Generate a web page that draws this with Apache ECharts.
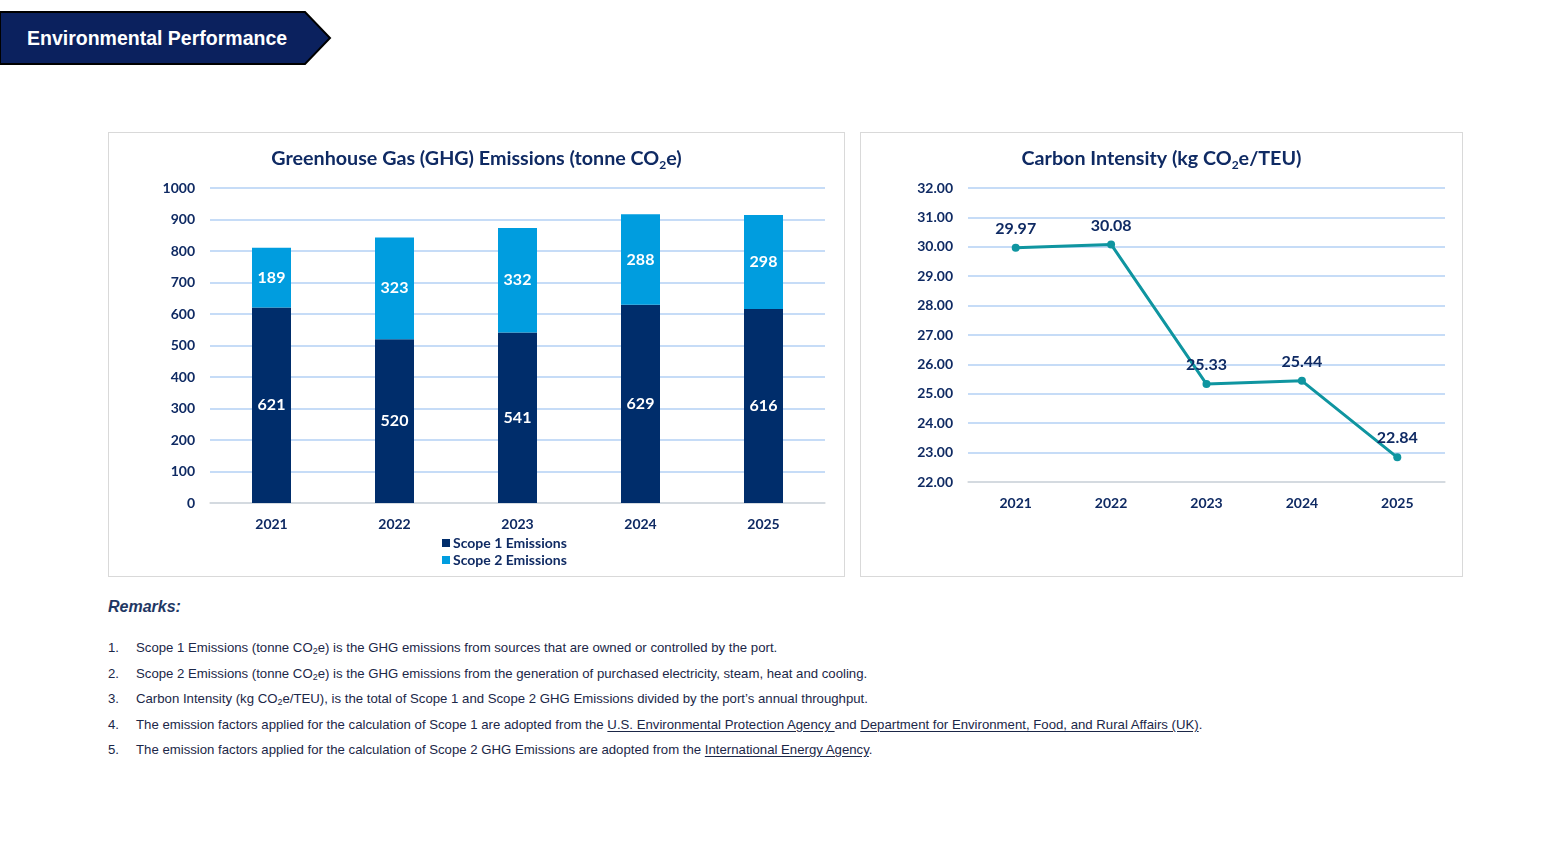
<!DOCTYPE html>
<html>
<head>
<meta charset="utf-8">
<script src="https://cdn.jsdelivr.net/npm/echarts@6/dist/echarts.min.js"></script>
<style>
    html, body { margin: 0; padding: 0; background: #fff; }
    body { width: 1566px; height: 848px; position: relative; overflow: hidden; font-family: "Liberation Sans", Arial, sans-serif; }
    #banner { position: absolute; left: 0; top: 0; }
    .box { position: absolute; box-sizing: border-box; border: 1px solid #d9d9d9; background: #fff; }
    #ghgChart { left: 108px; top: 132px; width: 737px; height: 445px; }
    #ciChart { left: 860px; top: 132px; width: 603px; height: 445px; }
    #remarks { position: absolute; left: 108px; top: 598px; width: 1400px; color: #1b2748; }
    #remarks h3 { margin: 0; font-size: 16px; font-weight: bold; font-style: italic; color: #1f3864; }
    #remarks ol { list-style: none; margin: 24px 0 0 0; padding: 0; font-size: 13.2px; }
    #remarks li { position: relative; padding-left: 28px; height: 25.5px; line-height: 16px; }
    #remarks li span.n { position: absolute; left: 0; }
    #remarks u { text-underline-offset: 2px; }
    #remarks sub { font-size: 9px; vertical-align: -2px; }
</style>
</head>
<body>
<svg id="banner" width="340" height="70">
    <polygon points="0,12 305,12 330,38 305,64 0,64" fill="#0b215e" stroke="#000" stroke-width="2"/>
    <text x="27" y="45" fill="#fff" font-family="Liberation Sans, Arial, sans-serif" font-weight="bold" font-size="19.5">Environmental Performance</text>
</svg>
<div id="ghgChart" class="box"></div>
<div id="ciChart" class="box"></div>
<div id="remarks">
    <h3>Remarks:</h3>
    <ol>
        <li><span class="n">1.</span>Scope 1 Emissions (tonne CO<sub>2</sub>e) is the GHG emissions from sources that are owned or controlled by the port.</li>
        <li><span class="n">2.</span>Scope 2 Emissions (tonne CO<sub>2</sub>e) is the GHG emissions from the generation of purchased electricity, steam, heat and cooling.</li>
        <li><span class="n">3.</span>Carbon Intensity (kg CO<sub>2</sub>e/TEU), is the total of Scope 1 and Scope 2 GHG Emissions divided by the port’s annual throughput.</li>
        <li><span class="n">4.</span>The emission factors applied for the calculation of Scope 1 are adopted from the <u>U.S. Environmental Protection Agency </u>and <u>Department for Environment, Food, and Rural Affairs (UK)</u>.</li>
        <li><span class="n">5.</span>The emission factors applied for the calculation of Scope 2 GHG Emissions are adopted from the <u>International Energy Agency</u>.</li>
    </ol>
</div>
<script>
const years = ['2021', '2022', '2023', '2024', '2025'];
const scope1 = [621, 520, 541, 629, 616];
const scope2 = [189, 323, 332, 288, 298];
const intensity = [29.97, 30.08, 25.33, 25.44, 22.84];

const FONT = 'Lato, "Noto Sans", sans-serif';
const NAVY_TEXT = '#0f2a63';
const GRID_LINE = '#c6dcf7';

function titleRich(before, after) {
    return {
        text: '{a|' + before + '}{s|2}{a|' + after + '}',
        left: 'center',
        top: 9,
        textStyle: {
            rich: {
                a: { fontSize: 19.7, fontWeight: 'bold', color: NAVY_TEXT, fontFamily: FONT, lineHeight: 24 },
                s: { fontSize: 12, fontWeight: 'bold', color: NAVY_TEXT, fontFamily: FONT, lineHeight: 13, verticalAlign: 'bottom' }
            }
        }
    };
}

function axisLabelStyle() {
    return { color: NAVY_TEXT, fontFamily: FONT, fontWeight: 'bold', fontSize: 14 };
}

const ghgChart = echarts.init(document.getElementById('ghgChart'));
ghgChart.setOption({
    animation: false,
    title: titleRich('Greenhouse Gas (GHG) Emissions (tonne CO', 'e)'),
    grid: { left: 101, top: 55, width: 615, height: 315 },
    legend: {
        orient: 'vertical',
        left: 328,
        top: 398,
        itemWidth: 8,
        itemHeight: 8,
        itemGap: 3,
        icon: 'rect',
        textStyle: { color: NAVY_TEXT, fontFamily: FONT, fontWeight: 'bold', fontSize: 14, padding: [0, 0, 0, -2] },
        data: ['Scope 1 Emissions', 'Scope 2 Emissions']
    },
    xAxis: {
        type: 'category',
        data: years,
        axisTick: { show: false },
        axisLine: { lineStyle: { color: '#d9d9d9', width: 1.5 } },
        axisLabel: Object.assign({ margin: 14, fontSize: 15 }, axisLabelStyle())
    },
    yAxis: {
        type: 'value',
        min: 0,
        max: 1000,
        interval: 100,
        axisLabel: Object.assign({ margin: 15, formatter: v => String(v) }, axisLabelStyle()),
        splitLine: { lineStyle: { color: GRID_LINE, width: 2 } }
    },
    series: [
        {
            name: 'Scope 1 Emissions',
            type: 'bar',
            stack: 'ghg',
            barWidth: 39,
            data: scope1,
            itemStyle: { color: '#002d6b' },
            label: { show: true, position: 'inside', color: '#fff', fontFamily: FONT, fontWeight: 'bold', fontSize: 16 }
        },
        {
            name: 'Scope 2 Emissions',
            type: 'bar',
            stack: 'ghg',
            barWidth: 39,
            data: scope2,
            itemStyle: { color: '#009ddf' },
            label: { show: true, position: 'inside', color: '#fff', fontFamily: FONT, fontWeight: 'bold', fontSize: 16 }
        }
    ]
});

const ciChart = echarts.init(document.getElementById('ciChart'));
ciChart.setOption({
    animation: false,
    title: titleRich('Carbon Intensity (kg CO', 'e/TEU)'),
    grid: { left: 107, top: 55, width: 477, height: 294 },
    xAxis: {
        type: 'category',
        data: years,
        axisTick: { show: false },
        axisLine: { lineStyle: { color: '#d9d9d9', width: 1.5 } },
        axisLabel: Object.assign({ margin: 14, fontSize: 15 }, axisLabelStyle())
    },
    yAxis: {
        type: 'value',
        min: 22,
        max: 32,
        interval: 1,
        axisLabel: Object.assign({ margin: 15, formatter: v => v.toFixed(2) }, axisLabelStyle()),
        splitLine: { lineStyle: { color: GRID_LINE, width: 2 } }
    },
    series: [
        {
            name: 'Carbon Intensity',
            type: 'line',
            data: intensity,
            symbol: 'circle',
            symbolSize: 8,
            lineStyle: { color: '#0f95a0', width: 3 },
            itemStyle: { color: '#0f95a0' },
            label: {
                show: true,
                position: 'top',
                distance: 7,
                color: NAVY_TEXT,
                fontFamily: FONT,
                fontWeight: 'bold',
                fontSize: 16,
                formatter: p => p.value.toFixed(2)
            }
        }
    ]
});
</script>
</body>
</html>
